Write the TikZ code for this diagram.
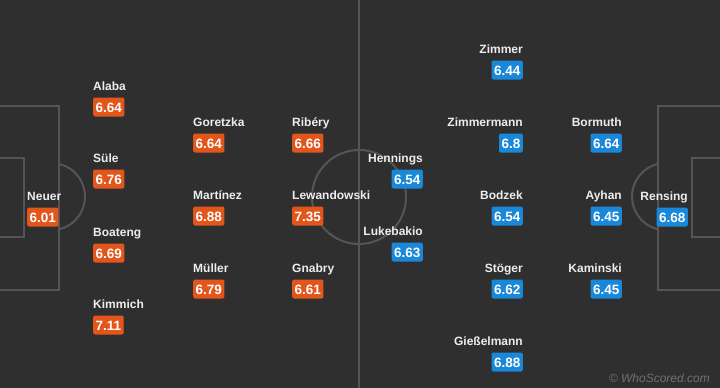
\documentclass[tikz,border=0pt]{standalone}
\usepackage{fontspec}
\setmainfont{Liberation Sans}
\definecolor{pitchbg}{HTML}{2F2F2F}
\definecolor{pitchline}{HTML}{555555}
\definecolor{homecol}{HTML}{E2561B}
\definecolor{awaycol}{HTML}{1A88D8}
\definecolor{namecol}{HTML}{EDEDED}
\definecolor{markcol}{HTML}{707070}
\tikzset{
  pline/.style={draw=pitchline, line width=2pt},
  pname/.style={text=namecol, font=\bfseries\fontsize{12}{12}\selectfont, inner sep=0pt, text height=9pt, text depth=2.5pt},
  badge/.style={text=white, font=\bfseries\fontsize{13.5}{13.5}\selectfont, rounded corners=2pt, minimum height=19pt, inner xsep=2.5pt, inner ysep=0pt, text height=10pt, text depth=0pt},
  hbadge/.style={badge, fill=homecol, anchor=west},
  abadge/.style={badge, fill=awaycol, anchor=east},
  hname/.style={pname, anchor=west},
  aname/.style={pname, anchor=east},
}
\newcommand\homeplayer[5]{%
  \node[hname] (#1n) at (#2,#3) {#4};
  \node[hbadge] (#1r) at (#2,#3+20) {#5};}
\newcommand\awayplayer[5]{%
  \node[aname] (#1n) at (#2,#3) {#4};
  \node[abadge] (#1r) at (#2,#3+20) {#5};}
\begin{document}
\begin{tikzpicture}[x=1pt,y=-1pt]
\fill[pitchbg] (0,0) rectangle (720,388);
\useasboundingbox (0,0) rectangle (720,388);
% pitch markings
\draw[pline] (359,-5) -- (359,393);
\draw[pline] (359,197) circle (47);
\draw[pline] (-5,106) -- (59,106) -- (59,290) -- (-5,290);
\draw[pline] (-5,158) -- (24,158) -- (24,237) -- (-5,237);
\draw[pline] (59,164) arc[start angle=-77, end angle=77, radius=33.5] ;
\draw[pline] (725,106) -- (658,106) -- (658,290) -- (725,290);
\draw[pline] (725,158) -- (692,158) -- (692,237) -- (725,237);
\draw[pline] (658,164) arc[start angle=257, end angle=103, radius=33.5];
% home team
\homeplayer{neuer}{27}{197}{Neuer}{6.01}
\homeplayer{alaba}{93}{87}{Alaba}{6.64}
\homeplayer{suele}{93}{159}{Süle}{6.76}
\homeplayer{boateng}{93}{233}{Boateng}{6.69}
\homeplayer{kimmich}{93}{305}{Kimmich}{7.11}
\homeplayer{goretzka}{193}{123}{Goretzka}{6.64}
\homeplayer{martinez}{193}{196}{Martínez}{6.88}
\homeplayer{mueller}{193}{269}{Müller}{6.79}
\homeplayer{ribery}{292}{123}{Ribéry}{6.66}
\homeplayer{lewandowski}{292}{196}{Lewandowski}{7.35}
\homeplayer{gnabry}{292}{269}{Gnabry}{6.61}
% away team
\awayplayer{hennings}{423}{159}{Hennings}{6.54}
\awayplayer{lukebakio}{423}{232}{Lukebakio}{6.63}
\awayplayer{zimmer}{523}{50}{Zimmer}{6.44}
\awayplayer{zimmermann}{523}{123}{Zimmermann}{6.8}
\awayplayer{bodzek}{523}{196}{Bodzek}{6.54}
\awayplayer{stoeger}{523}{269}{Stöger}{6.62}
\awayplayer{giesselmann}{523}{342}{Gießelmann}{6.88}
\awayplayer{bormuth}{622}{123}{Bormuth}{6.64}
\awayplayer{ayhan}{622}{196}{Ayhan}{6.45}
\awayplayer{kaminski}{622}{269}{Kaminski}{6.45}
\awayplayer{rensing}{688}{197}{Rensing}{6.68}
% watermark
\node[anchor=east, text=markcol, font=\itshape\fontsize{12}{12}\selectfont, inner sep=0pt] (wm) at (710,378) {© WhoScored.com};
\end{tikzpicture}
\end{document}
